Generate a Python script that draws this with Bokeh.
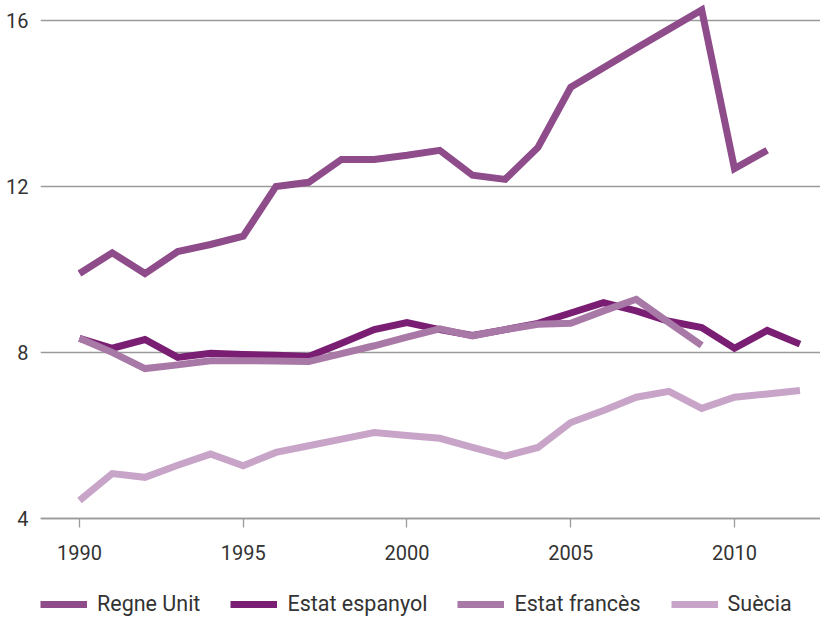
import numpy as np
from bokeh.plotting import figure
from bokeh.models import Range1d, FixedTicker, Legend, LegendItem
from bokeh.embed import file_html
from bokeh.resources import INLINE

years = list(range(1990, 2013))
regne_unit = [9.9, 10.4, 9.9, 10.43, 10.6, 10.8, 12.0, 12.1, 12.65, 12.65, 12.75, 12.87,
              12.27, 12.17, 12.94, 14.39, 14.86, 15.33, 15.79, 16.25, 12.43, 12.87, None]
estat_espanyol = [8.34, 8.1, 8.31, 7.88, 7.98, 7.95, 7.93, 7.9, 8.22, 8.55, 8.72, 8.55,
                  8.41, 8.55, 8.7, 8.95, 9.2, 9.0, 8.75, 8.6, 8.1, 8.53, 8.2]
estat_frances = [8.34, 8.0, 7.61, 7.7, 7.8, 7.8, 7.79, 7.78, 7.97, 8.16, 8.37, 8.57,
                 8.4, 8.55, 8.68, 8.7, 9.0, 9.28, 8.72, 8.17, None, None, None]
suecia = [4.43, 5.08, 4.99, 5.28, 5.55, 5.27, 5.59, 5.75, 5.91, 6.07, 6.0, 5.93,
          5.71, 5.5, 5.71, 6.31, 6.6, 6.92, 7.06, 6.65, 6.92, 7.0, 7.08]

series_names = ["Regne Unit", "Estat espanyol", "Estat francès", "Suècia"]
series_values = [regne_unit, estat_espanyol, estat_frances, suecia]
colors = ["#8E4C8A", "#7A1E74", "#A878A6", "#C8A5C8"]

x_ticks = [1990, 1995, 2000, 2005, 2010]
y_ticks = [4, 8, 12, 16]
y_axis_base = 4

FONT = "Roboto"
TXT = "#333333"
GRID = "#9a9a9a"

p = figure(frame_width=780, frame_height=616,
           x_range=Range1d(1988.81, 2012.627), y_range=Range1d(1.636, 16.48),
           output_backend="svg", toolbar_location=None,
           min_border_left=40, min_border_right=0, min_border_top=0, min_border_bottom=0)
p.outline_line_color = None
p.background_fill_color = "white"

items = []
for name, vals, col in zip(series_names, series_values, colors):
    y = np.array([np.nan if v is None else v for v in vals], dtype=float)
    r = p.line(years, y, line_color=col, line_width=7, line_join="miter", line_cap="butt")
    items.append(LegendItem(label=name, renderers=[r]))

xa = p.xaxis[0]
xa.fixed_location = y_axis_base
xa.ticker = FixedTicker(ticks=x_ticks)
xa.axis_line_color = GRID
xa.axis_line_width = 1.3
xa.major_tick_line_color = GRID
xa.major_tick_line_width = 1.3
xa.major_tick_out = 9
xa.major_tick_in = 0
xa.minor_tick_line_color = None
xa.major_label_standoff = 18
xa.major_label_text_font = FONT
xa.major_label_text_font_size = "20px"
xa.major_label_text_color = TXT

ya = p.yaxis[0]
ya.ticker = FixedTicker(ticks=y_ticks)
ya.axis_line_color = None
ya.major_tick_line_color = None
ya.minor_tick_line_color = None
ya.major_tick_out = 0
ya.major_tick_in = 0
ya.major_label_standoff = 12
ya.major_label_text_font = FONT
ya.major_label_text_font_size = "20px"
ya.major_label_text_color = TXT

p.xgrid.grid_line_color = None
p.ygrid.ticker = FixedTicker(ticks=y_ticks)
p.ygrid.grid_line_color = GRID
p.ygrid.grid_line_width = 1.3

legend = Legend(items=items, orientation="horizontal", location=(0, 0),
                glyph_width=47, glyph_height=20, label_standoff=10, spacing=30,
                padding=0, margin=0, border_line_color=None,
                background_fill_alpha=0,
                label_text_font=FONT, label_text_font_size="21.5px", label_text_color=TXT)
p.add_layout(legend, "center")

open("out.html", "w").write(file_html(p, INLINE))
